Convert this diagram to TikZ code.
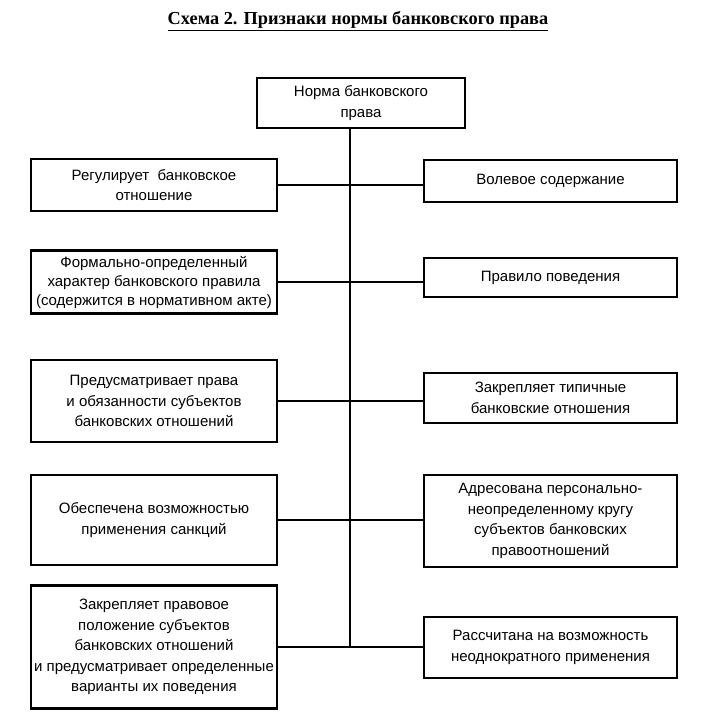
\documentclass[tikz,border=0pt]{standalone}
\usepackage{fontspec}
\setmainfont{Liberation Sans}
\newfontfamily\titlefont{Liberation Serif}
\usetikzlibrary{positioning}

\begin{document}
\begin{tikzpicture}
  [x=1pt,y=-1pt,
  normbox/.style={draw=black,line width=2.2pt,inner sep=0pt,align=center,font=\fontsize{15}{20.5}\selectfont},
  leftbox/.style={normbox,minimum width=246pt},
  rightbox/.style={normbox,minimum width=253pt},
  link/.style={draw=black,line width=2pt}]
  \useasboundingbox (0,0) rectangle (715,724);
  \node[font=\titlefont\bfseries\fontsize{18.3}{20}\selectfont] (title) at (358,21) {\underline{Схема 2. Признаки нормы банковского права}};

  \node[normbox,minimum width=208pt,minimum height=50pt] (norm) at (361,103) {Норма банковского\\права};

  \node[leftbox,minimum height=52pt] (l1) at (154,185) {Регулирует\ \ банковское\\отношение};
  \node[leftbox,minimum height=63pt,font=\fontsize{15}{19}\selectfont] (l2) at (154,282) {Формально-определенный\\характер банковского правила\\(содержится в нормативном акте)};
  \node[leftbox,minimum height=82pt] (l3) at (154,401) {Предусматривает права\\и обязанности субъектов\\банковских отношений};
  \node[leftbox,minimum height=90pt] (l4) at (154,520) {Обеспечена возможностью\\применения санкций};
  \node[leftbox,minimum height=123pt] (l5) at (154,647) {Закрепляет правовое\\положение субъектов\\банковских отношений\\и предусматривает определенные\\варианты их поведения};

  \node[rightbox,minimum height=42pt] (r1) at (550.5,181) {Волевое содержание};
  \node[rightbox,minimum height=39pt] (r2) at (550.5,277.5) {Правило поведения};
  \node[rightbox,minimum height=50pt] (r3) at (550.5,398) {Закрепляет типичные\\банковские отношения};
  \node[rightbox,minimum height=92pt] (r4) at (550.5,521) {Адресована персонально-\\неопределенному кругу\\субъектов банковских\\правоотношений};
  \node[rightbox,minimum height=61pt] (r5) at (550.5,647.5) {Рассчитана на возможность\\неоднократного применения};

  % spine
  \coordinate (bottom) at (l5.east -| norm.south);
  \draw [link,line width=2.6pt] (norm.south -| 350,0) -- (bottom -| 350,0);

  \foreach \i in {1,...,5}
    \draw [link] (l\i.east) -- (l\i.east -| r\i.west);
\end{tikzpicture}
\end{document}
